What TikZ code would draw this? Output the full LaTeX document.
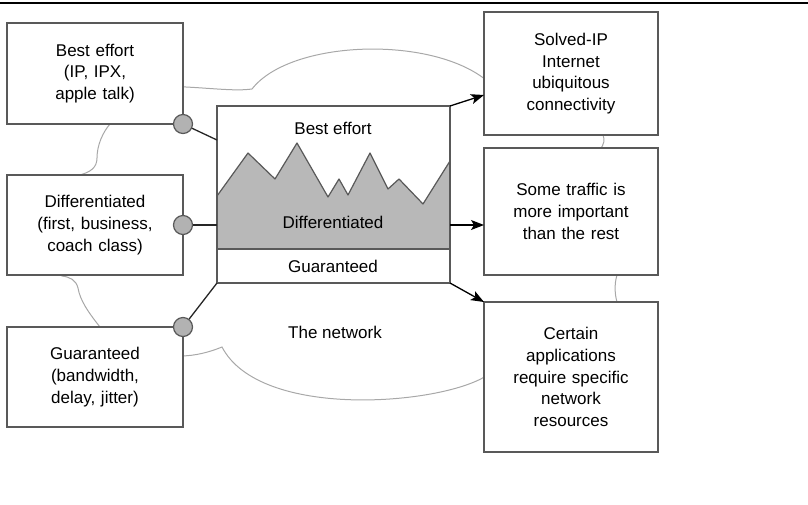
\documentclass[tikz,border=0pt]{standalone}
\usepackage{fontspec}
\setmainfont{Liberation Sans}
\usetikzlibrary{arrows.meta,positioning}
\definecolor{boxgray}{gray}{0.35}
\definecolor{cloudgray}{gray}{0.66}
\definecolor{hillgray}{gray}{0.72}
\definecolor{dotgray}{gray}{0.70}

\begin{document}
\begin{tikzpicture}[x=1pt, y=-1pt, every node/.style={font=\fontsize{17}{21.7}\selectfont}, box/.style={draw=boxgray,line width=1.5pt,fill=white,align=center,outer sep=0pt,text width=150pt,minimum width=176pt,minimum height=100pt}, rbox/.style={box,minimum width=174pt}, dot/.style={circle,draw=boxgray,line width=1.2pt,fill=dotgray,minimum size=19pt,inner sep=0pt}, arr/.style={-{Stealth[length=13pt,width=10pt,inset=3pt]},line width=1.3pt}, link/.style={line width=1.3pt,black!85}, cloud/.style={cloudgray,line width=1pt}]
\useasboundingbox (0,0) rectangle (808,504);
\draw[line width=1.5pt] (0,3) -- (808,3);
\draw[cloud] (150,86) .. controls (200,86) and (230,92) .. (252,89) .. controls (290,40) and (430,35) .. (486,80) -- (603,125) -- (603,135) .. controls (605,140) and (604,144) .. (600,150) -- (617,265) -- (617,275) .. controls (614,285) and (615,295) .. (617,302) -- (486,376) .. controls (440,405) and (260,420) .. (222,347) .. controls (210,352) and (195,356) .. (180,356) -- (100,340) -- (100,327) .. controls (88,312) and (80,300) .. (78,288) .. controls (76,280) and (70,277) .. (62,276) -- (80,175) .. controls (90,172) and (97,168) .. (97,158) .. controls (97,145) and (103,132) .. (110,124) -- cycle;
\node[box,minimum height=101pt] (be) at (95,73.5) {Best effort\\(IP, IPX,\\apple talk)};
\node[box,below=51pt of be] (diff) {Differentiated\\(first, business,\\coach class)};
\node[box,below=52pt of diff] (guar) {Guaranteed\\(bandwidth,\\delay, jitter)};
\node[rbox,minimum height=123pt] (solved) at (571,73.5) {Solved-IP\\Internet\\ubiquitous\\connectivity};
\node[rbox,minimum height=127pt,below=13pt of solved] (some) {Some traffic is\\more important\\than the rest};
\node[rbox,minimum height=150pt,below=27pt of some] (certain) {Certain\\applications\\require specific\\network\\resources};
\node[fill=white,minimum width=233pt,minimum height=177pt,inner sep=0pt,outer sep=0pt] (core) at (333.5,194.5) {};
\fill[hillgray] (217,196) -- (248,153) -- (275,179) -- (297,143) -- (328,197) -- (339,179) -- (348,195) -- (370,153) -- (388,189) -- (399,179) -- (423,204) -- (450,161) -- (450,249) -- (217,249) -- cycle;
\draw[boxgray,line width=1.2pt,line join=round] (217,196) -- (248,153) -- (275,179) -- (297,143) -- (328,197) -- (339,179) -- (348,195) -- (370,153) -- (388,189) -- (399,179) -- (423,204) -- (450,161);
\draw[boxgray,line width=1.5pt] (core.west |- 0,249) -- (core.east |- 0,249);
\draw[boxgray,line width=1.5pt] (core.north west) rectangle (core.south east);
\node (lbest) at (333,128) {Best effort};
\node (ldiff) at (333,222) {Differentiated};
\node (lguar) at (333,266) {Guaranteed};
\node (lnet) at (335,332) {The network};
\node[dot] (c1) at (be.south east) {}; \node[dot] (c2) at (diff.east) {}; \node[dot] (c3) at (guar.north east) {};
\draw[link] (c1) -- (core.west |- 0,140); \draw[link] (c2) -- (core.west |- c2); \draw[link] (c3) -- (core.south west);
\draw[arr] (core.north east) -- (solved.west |- 0,95); \draw[arr] (core.east |- c2) -- (some.west |- c2); \draw[arr] (core.south east) -- (certain.north west);
\end{tikzpicture}
\end{document}
